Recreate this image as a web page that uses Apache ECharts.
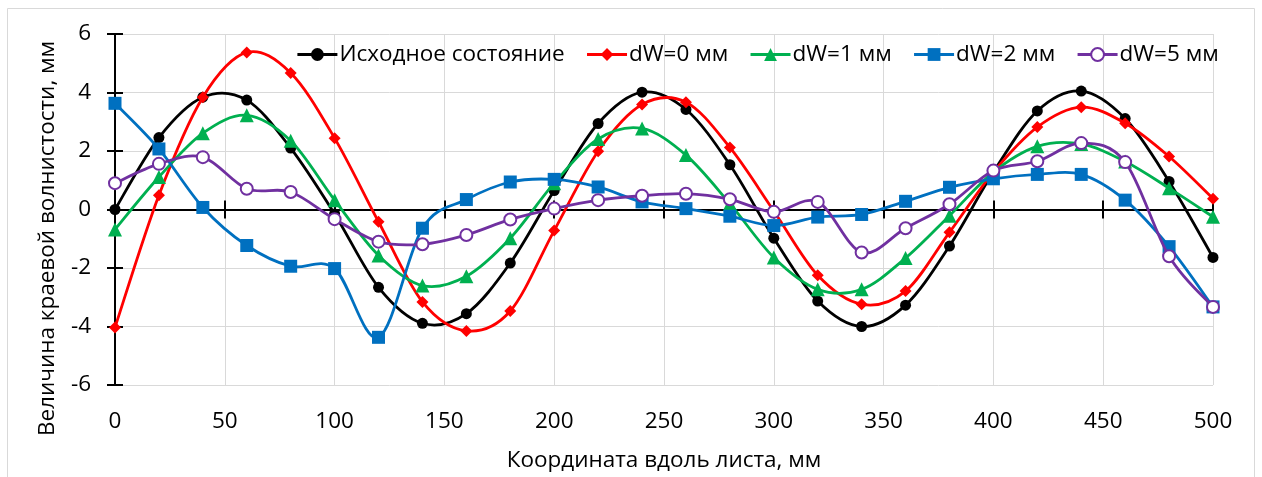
<!DOCTYPE html>
<html>
<head>
<meta charset="utf-8">
<script src="https://cdn.jsdelivr.net/npm/echarts@6/dist/echarts.min.js"></script>
<style>
  html, body { margin: 0; padding: 0; background: #ffffff; }
  #chart { width: 1262px; height: 477px; }
</style>
</head>
<body>
<div id="chart"></div>
<script>
// Position along the sheet, mm
const positions = [0, 20, 40, 60, 80, 100, 120, 140, 160, 180, 200, 220, 240,
                   260, 280, 300, 320, 340, 360, 380, 400, 420, 440, 460, 480, 500];

// Edge waviness, mm
const initialState = [0, 2.46, 3.84, 3.74, 2.10, -0.15, -2.66, -3.89, -3.56, -1.83, 0.65, 2.94, 4.01,
                      3.42, 1.53, -0.98, -3.13, -4.00, -3.27, -1.25, 1.28, 3.37, 4.05, 3.11, 0.96, -1.64];
const dW0 = [-4.03, 0.49, 3.84, 5.37, 4.67, 2.44, -0.42, -3.16, -4.15, -3.47, -0.72, 1.99, 3.59,
             3.67, 2.12, -0.05, -2.25, -3.24, -2.79, -0.78, 1.28, 2.82, 3.50, 2.95, 1.81, 0.37];
const dW1 = [-0.68, 1.11, 2.61, 3.22, 2.35, 0.32, -1.57, -2.60, -2.28, -0.98, 0.90, 2.41, 2.77,
             1.86, 0.20, -1.64, -2.73, -2.73, -1.66, -0.21, 1.28, 2.16, 2.24, 1.64, 0.73, -0.25];
const dW2 = [3.63, 2.07, 0.07, -1.23, -1.94, -2.02, -4.37, -0.64, 0.34, 0.94, 1.03, 0.77, 0.26,
             0.03, -0.23, -0.55, -0.26, -0.17, 0.28, 0.76, 1.05, 1.20, 1.20, 0.32, -1.27, -3.33];
const dW5 = [0.90, 1.56, 1.79, 0.71, 0.60, -0.33, -1.10, -1.19, -0.87, -0.34, 0.03, 0.32, 0.47,
             0.54, 0.35, -0.08, 0.26, -1.47, -0.64, 0.18, 1.33, 1.65, 2.27, 1.62, -1.60, -3.33];

const seriesNames = ['Исходное состояние', 'dW=0 мм', 'dW=1 мм', 'dW=2 мм', 'dW=5 мм'];
const seriesValues = [initialState, dW0, dW1, dW2, dW5];

const colors = ['#000000', '#ff0000', '#00b050', '#0070c0', '#7030a0'];
const symbols = ['circle', 'diamond', 'triangle', 'rect', 'emptyCircle'];
const symbolSizes = [11, 12, 14, 13, 12];
const LINE_W = 2.8;

const FONT = '"Open Sans", "DejaVu Sans", sans-serif';
const FS = 22.5;

// Cardinal (Catmull-Rom) spline through pixel points, as SVG path data
function splinePath(pts) {
  const n = pts.length;
  let d = 'M' + pts[0][0] + ',' + pts[0][1];
  for (let i = 0; i < n - 1; i++) {
    const p0 = pts[Math.max(i - 1, 0)];
    const p1 = pts[i];
    const p2 = pts[i + 1];
    const p3 = pts[Math.min(i + 2, n - 1)];
    const c1x = p1[0] + (p2[0] - p0[0]) / 6;
    const c1y = p1[1] + (p2[1] - p0[1]) / 6;
    const c2x = p2[0] - (p3[0] - p1[0]) / 6;
    const c2y = p2[1] - (p3[1] - p1[1]) / 6;
    d += ' C' + c1x + ',' + c1y + ' ' + c2x + ',' + c2y + ' ' + p2[0] + ',' + p2[1];
  }
  return d;
}

const chart = echarts.init(document.getElementById('chart'), null, { renderer: 'canvas' });

const xBase = { type: 'value', min: 0, max: 500, interval: 50, position: 'bottom' };
const yBase = { type: 'value', min: -6, max: 6, interval: 2, position: 'left' };

const pairs = seriesValues.map(vals => positions.map((x, i) => [x, vals[i]]));

// Markers (and legend entries) for each data set
const markerSeries = seriesNames.map((name, k) => ({
  name: name,
  type: 'line',
  xAxisIndex: 0,
  yAxisIndex: 0,
  smooth: false,
  symbol: symbols[k],
  symbolSize: symbolSizes[k],
  showAllSymbol: true,
  lineStyle: { color: colors[k], width: LINE_W, opacity: 0 },
  itemStyle: { color: colors[k], borderColor: colors[k], borderWidth: k === 4 ? 2.2 : 0 },
  emphasis: { disabled: true },
  z: 3 + 2 * k,
  data: pairs[k]
}));

// Smoothed connecting curves, placed through the axis scales
const curveSeries = seriesNames.map((name, k) => ({
  name: name,
  type: 'custom',
  xAxisIndex: 0,
  yAxisIndex: 0,
  z: 2 + 2 * k,
  clip: false,
  silent: true,
  encode: { x: 0, y: 1 },
  data: pairs[k],
  renderItem: function (params, api) {
    if (params.dataIndex !== 0) return null;
    const pts = pairs[k].map(p => api.coord(p));
    return {
      type: 'path',
      shape: { pathData: splinePath(pts) },
      style: { fill: 'none', stroke: colors[k], lineWidth: LINE_W, lineJoin: 'round' },
      silent: true
    };
  }
}));

chart.setOption({
  animation: false,
  backgroundColor: '#ffffff',
  textStyle: { fontFamily: FONT },
  grid: { left: 115, right: 49, top: 34, bottom: 89, containLabel: false },
  legend: {
    left: 291,
    top: 38,
    itemWidth: 40,
    itemHeight: 16,
    itemGap: 21,
    lineStyle: { opacity: 1, width: LINE_W },
    textStyle: { fontSize: FS, color: '#000', fontFamily: FONT, padding: [0, 0, 0, -3] },
    data: seriesNames
  },
  xAxis: [
    Object.assign({}, xBase, {
      axisLine: { show: false, onZero: false },
      axisTick: { show: false },
      axisLabel: { fontSize: FS, color: '#000', margin: 25, fontFamily: FONT },
      splitLine: { show: true, lineStyle: { color: '#d9d9d9', width: 1 } },
      name: 'Координата вдоль листа, мм',
      nameLocation: 'middle',
      nameGap: 64,
      nameTextStyle: { fontSize: FS, color: '#000', fontFamily: FONT }
    }),
    Object.assign({}, xBase, {
      axisLine: { show: true, onZero: true, onZeroAxisIndex: 0, lineStyle: { color: '#000', width: 2 } },
      axisTick: { show: true, length: 9, lineStyle: { color: '#000', width: 2 } },
      axisLabel: { show: false },
      splitLine: { show: false }
    }),
    Object.assign({}, xBase, {
      axisLine: { show: false, onZero: true, onZeroAxisIndex: 0 },
      axisTick: { show: true, inside: true, length: 9, lineStyle: { color: '#000', width: 2 } },
      axisLabel: { show: false },
      splitLine: { show: false }
    })
  ],
  yAxis: [
    Object.assign({}, yBase, {
      axisLine: { show: true, onZero: false, lineStyle: { color: '#000', width: 2 } },
      axisTick: { show: true, length: 8, lineStyle: { color: '#000', width: 2 } },
      axisLabel: { fontSize: FS, color: '#000', margin: 24, fontFamily: FONT },
      splitLine: { show: true, lineStyle: { color: '#d9d9d9', width: 1 } },
      name: 'Величина краевой волнистости, мм',
      nameLocation: 'middle',
      nameGap: 56,
      nameRotate: 90,
      nameTextStyle: { fontSize: FS, color: '#000', fontFamily: FONT, padding: [0, 58, 0, 0] }
    }),
    Object.assign({}, yBase, {
      axisLine: { show: false, onZero: false },
      axisTick: { show: true, inside: true, length: 8, lineStyle: { color: '#000', width: 2 } },
      axisLabel: { show: false },
      splitLine: { show: false }
    })
  ],
  graphic: [{
    type: 'rect',
    silent: true,
    z: -10,
    shape: { x: 7.5, y: 8.5, width: 1247, height: 490 },
    style: { fill: 'none', stroke: '#d9d9d9', lineWidth: 1 }
  }],
  series: markerSeries.concat(curveSeries)
});
</script>
</body>
</html>
